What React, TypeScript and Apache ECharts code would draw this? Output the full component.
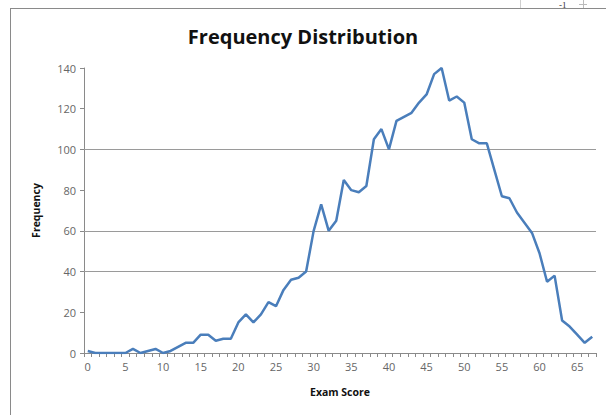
import React, { useEffect, useRef } from "react";
import * as echarts from "echarts";

const scores: string[] = Array.from({ length: 68 }, (_, i) => String(i));
const frequencies: number[] = [
  1, 0, 0, 0, 0, 0, 2, 0, 1, 2,
  0, 1, 3, 5, 5, 9, 9, 6, 7, 7,
  15, 19, 15, 19, 25, 23, 31, 36, 37, 40,
  60, 73, 60, 65, 85, 80, 79, 82, 105, 110,
  100, 114, 116, 118, 123, 127, 137, 140, 124, 126,
  123, 105, 103, 103, 90, 77, 76, 69, 64, 59,
  49, 35, 38, 16, 13, 9, 5, 8,
];
const yTicks = { min: 0, max: 140, interval: 20 };
const visibleGridlines: number[] = [40, 60, 100];
const titleText = "Frequency Distribution";
const xTitle = "Exam Score";
const yTitle = "Frequency";
const cornerText = "-1";

export default function App() {
  const ref = useRef<HTMLDivElement>(null);
  useEffect(() => {
    if (!ref.current) return;
    const chart = echarts.init(ref.current, undefined, { renderer: "svg" });
    const font = "'Open Sans', 'Noto Sans', sans-serif";
    chart.setOption({
      animation: false,
      backgroundColor: "#ffffff",
      title: {
        text: titleText,
        left: "center",
        top: 21,
        textStyle: { fontFamily: font, fontSize: 20, fontWeight: "bold", color: "#111" },
      },
      grid: { left: 84, right: 10, top: 68, bottom: 62 },
      xAxis: {
        type: "category",
        data: scores,
        boundaryGap: true,
        name: xTitle,
        nameLocation: "middle",
        nameGap: 33,
        nameTextStyle: { fontFamily: font, fontSize: 10.5, fontWeight: "bold", color: "#111" },
        axisLine: { lineStyle: { color: "#8a8a8a", width: 1 } },
        axisTick: { show: true, interval: 0, length: 4, lineStyle: { color: "#8a8a8a" } },
        axisLabel: {
          interval: (idx: number) => idx % 5 === 0,
          fontFamily: font,
          fontSize: 11,
          color: "#666",
          margin: 8,
        },
        splitLine: { show: false },
      },
      yAxis: {
        type: "value",
        min: yTicks.min,
        max: yTicks.max,
        interval: yTicks.interval,
        name: yTitle,
        nameLocation: "middle",
        nameGap: 43,
        nameRotate: 90,
        nameTextStyle: { fontFamily: font, fontSize: 10.5, fontWeight: "bold", color: "#111" },
        axisLine: { show: true, lineStyle: { color: "#8a8a8a", width: 1 } },
        axisTick: { show: true, length: 4, lineStyle: { color: "#8a8a8a" } },
        axisLabel: { fontFamily: font, fontSize: 11, color: "#666", margin: 8 },
        splitLine: { show: false },
      },
      series: [
        {
          type: "line",
          data: frequencies,
          showSymbol: false,
          symbol: "none",
          lineStyle: { color: "#4a7ebb", width: 2.5 },
          markLine: {
            silent: true,
            symbol: "none",
            label: { show: false },
            lineStyle: { color: "#9a9a9a", width: 1, type: "solid" },
            data: visibleGridlines.map((v) => ({ yAxis: v })),
            z: 1,
          },
          z: 3,
        },
      ],
      graphic: [
        { type: "line", shape: { x1: 10, y1: 8.5, x2: 606, y2: 8.5 }, style: { stroke: "#8a8a8a", lineWidth: 1 } },
        { type: "line", shape: { x1: 10.5, y1: 8, x2: 10.5, y2: 415 }, style: { stroke: "#8a8a8a", lineWidth: 1 } },
        { type: "line", shape: { x1: 520.5, y1: 0, x2: 520.5, y2: 8 }, style: { stroke: "#cfcfcf", lineWidth: 1 } },
        { type: "text", left: 559, top: 0, style: { text: cornerText, fontFamily: "'Liberation Serif', serif", fontSize: 9, fill: "#333" } },
        { type: "line", shape: { x1: 579, y1: 4.5, x2: 587, y2: 4.5 }, style: { stroke: "#bbb", lineWidth: 1 } },
        { type: "line", shape: { x1: 583.5, y1: 0, x2: 583.5, y2: 8 }, style: { stroke: "#bbb", lineWidth: 1 } },
      ],
    });
    return () => chart.dispose();
  }, []);
  return (
    <div
      ref={ref}
      style={{ position: "fixed", left: 0, top: 0, width: 606, height: 415 }}
    />
  );
}
